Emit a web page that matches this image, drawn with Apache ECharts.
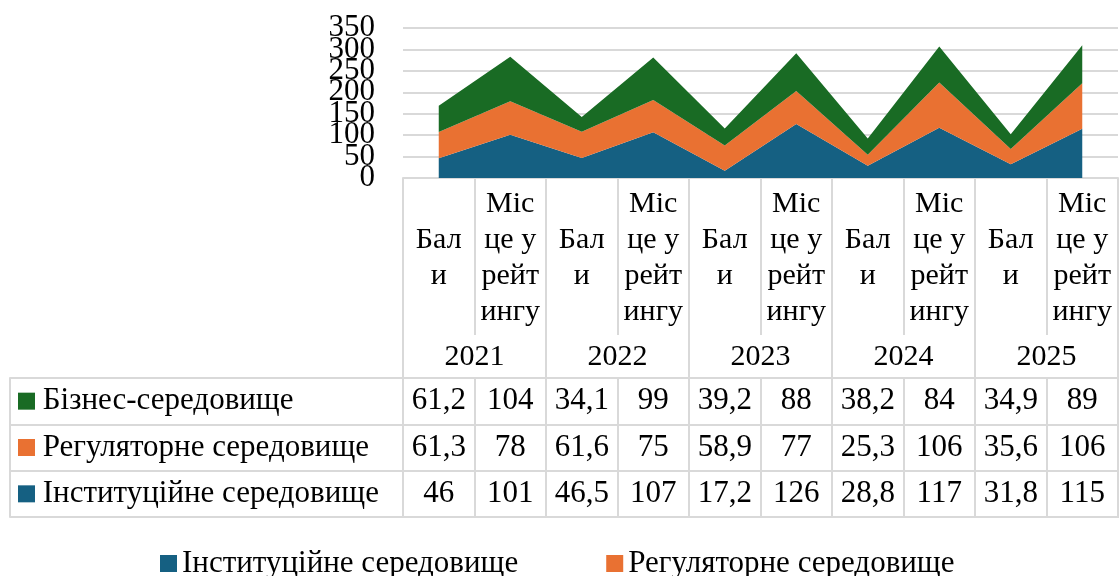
<!DOCTYPE html>
<html>
<head>
<meta charset="utf-8">
<script src="https://cdn.jsdelivr.net/npm/echarts@6/dist/echarts.min.js"></script>
<style>
  html, body { margin: 0; padding: 0; background: #fff; }
  #chart { width: 1120px; height: 576px; }
</style>
</head>
<body>
<div id="chart"></div>
<script>
// дані
const years = ["2021", "2022", "2023", "2024", "2025"];
const columns = ["Бали", "Місце у рейтингу", "Бали", "Місце у рейтингу", "Бали", "Місце у рейтингу", "Бали", "Місце у рейтингу", "Бали", "Місце у рейтингу"];
const columnWrapped = { "Бали": "Бал\nи", "Місце у рейтингу": "Міс\nце у\nрейт\nингу" };
const yTicks = [0, 50, 100, 150, 200, 250, 300, 350];

const institutional = [46, 101, 46.5, 107, 17.2, 126, 28.8, 117, 31.8, 115];
const regulatory = [61.3, 78, 61.6, 75, 58.9, 77, 25.3, 106, 35.6, 106];
const business = [61.2, 104, 34.1, 99, 39.2, 88, 38.2, 84, 34.9, 89];

const seriesNames = ["Інституційне середовище", "Регуляторне середовище", "Бізнес-середовище"];
const seriesValues = [institutional, regulatory, business];
const colors = ["#156082", "#E97132", "#196B24"];

const gridColor = "#D9D9D9";
const font = "Liberation Serif";

// клітинки таблиці: [стовпчик, рядок, значення]
const tableCells = [];
seriesValues.forEach((vals, r) => {
  vals.forEach((v, c) => tableCells.push([c, r, v]));
});

const rich = { t: { fontSize: 31, fontFamily: font, color: "#000" } };
colors.forEach((c, i) => {
  rich["k" + i] = { width: 17, height: 17, backgroundColor: c };
});

// підписи осі Y накладаються, тому парні й непарні йдуть на двох осях
const yLabelAxis = (keepEven, withGrid) => ({
  gridIndex: 0,
  type: "value",
  position: "left",
  min: yTicks[0],
  max: yTicks[yTicks.length - 1],
  interval: 50,
  axisLine: { show: false },
  axisTick: { show: false },
  axisLabel: {
    margin: 28,
    fontSize: 31,
    color: "#000",
    formatter: (v) => ((yTicks.indexOf(v) % 2 === 0) === keepEven ? String(v) : ""),
  },
  splitLine: { show: withGrid, lineStyle: { color: gridColor, width: 2 } },
});

const chart = echarts.init(document.getElementById("chart"));
chart.setOption({
  animation: false,
  textStyle: { fontFamily: font, color: "#000" },
  color: colors,
  grid: [
    { left: 403, width: 715, top: 28, height: 150 },
    { left: 403, width: 715, top: 378, height: 139, show: true, borderColor: gridColor, borderWidth: 2 },
  ],
  legend: {
    data: seriesNames,
    left: 155,
    top: 543,
    icon: "rect",
    itemWidth: 17,
    itemHeight: 17,
    itemGap: 88,
    selectedMode: false,
    textStyle: { fontSize: 31, fontFamily: font, color: "#000" },
  },
  xAxis: [
    {
      gridIndex: 0,
      type: "category",
      data: columns,
      boundaryGap: true,
      axisLine: { lineStyle: { color: gridColor, width: 2 } },
      axisTick: { show: true, interval: 0, length: 157, lineStyle: { color: gridColor, width: 2 } },
      axisLabel: {
        interval: 0,
        margin: 80,
        verticalAlign: "middle",
        fontSize: 30,
        lineHeight: 36,
        color: "#000",
        formatter: (v) => columnWrapped[v],
      },
    },
    {
      gridIndex: 0,
      type: "category",
      data: years,
      position: "bottom",
      boundaryGap: true,
      axisLine: { show: false },
      axisTick: { show: true, interval: 0, length: 200, lineStyle: { color: gridColor, width: 2 } },
      axisLabel: { interval: 0, margin: 179, verticalAlign: "middle", fontSize: 30, color: "#000" },
    },
    {
      gridIndex: 1,
      type: "category",
      data: columns,
      boundaryGap: true,
      axisLine: { show: false },
      axisTick: { show: false },
      axisLabel: { show: false },
      splitLine: { show: true, interval: 0, lineStyle: { color: gridColor, width: 2 } },
    },
  ],
  yAxis: [
    yLabelAxis(true, true),
    {
      gridIndex: 1,
      type: "category",
      data: seriesNames,
      boundaryGap: true,
      axisLine: { show: true, lineStyle: { color: gridColor, width: 2 } },
      axisTick: { show: true, interval: 0, length: 393, lineStyle: { color: gridColor, width: 2 } },
      splitLine: { show: true, interval: 0, lineStyle: { color: gridColor, width: 2 } },
      axisLabel: {
        interval: 0,
        align: "left",
        margin: 385,
        formatter: (v, i) => "{k" + i + "|}{t| " + v + "}",
        rich: rich,
      },
    },
    {
      gridIndex: 1,
      type: "category",
      data: seriesNames,
      position: "left",
      offset: 393,
      axisLine: { show: true, lineStyle: { color: gridColor, width: 2 } },
      axisTick: { show: false },
      axisLabel: { show: false },
      splitLine: { show: false },
    },
    yLabelAxis(false, false),
  ],
  series: [
    ...seriesNames.map((name, i) => ({
      name: name,
      type: "line",
      xAxisIndex: 0,
      yAxisIndex: 0,
      stack: "total",
      data: seriesValues[i],
      symbol: "none",
      lineStyle: { width: 0 },
      areaStyle: { color: colors[i], opacity: 1 },
      itemStyle: { color: colors[i] },
    })),
    {
      name: "table",
      type: "scatter",
      xAxisIndex: 2,
      yAxisIndex: 1,
      data: tableCells,
      symbolSize: 0,
      silent: true,
      itemStyle: { opacity: 1 },
      label: {
        show: true,
        position: "inside",
        fontSize: 31,
        color: "#000",
        formatter: (p) => String(p.value[2]).replace(".", ","),
      },
    },
  ],
});
window.addEventListener("resize", () => chart.resize());
</script>
</body>
</html>
